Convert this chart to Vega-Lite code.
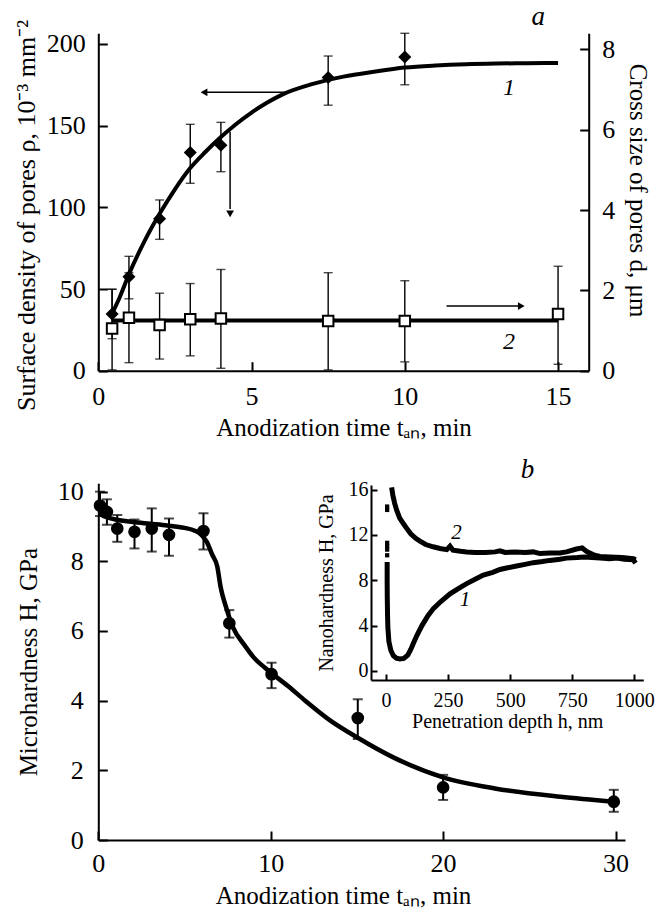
{
  "$schema": "https://vega.github.io/schema/vega-lite/v6.json",
  "width": 658,
  "height": 910,
  "autosize": {"type": "none"},
  "padding": 0,
  "background": "white",
  "config": {
    "view": {"stroke": null},
    "font": "Liberation Serif",
    "axis": {
      "grid": false,
      "domainColor": "black",
      "domainWidth": 2,
      "tickColor": "black",
      "tickWidth": 2,
      "tickSize": -9,
      "labelFont": "Liberation Serif",
      "labelFontSize": 26,
      "labelColor": "black",
      "labelPadding": 22,
      "labelFlush": false,
      "labelOverlap": false,
      "titleFont": "Liberation Serif",
      "titleFontSize": 25,
      "titleFontWeight": "normal",
      "titleColor": "black"
    }
  },
  "datasets": {
    "a1_curve": [
      {"t": 0.45, "v": 35}, {"t": 0.7, "v": 45}, {"t": 1.0, "v": 59}, {"t": 1.5, "v": 79},
      {"t": 2.0, "v": 96}, {"t": 2.5, "v": 111}, {"t": 3.0, "v": 124}, {"t": 3.5, "v": 134},
      {"t": 4.0, "v": 143}, {"t": 4.5, "v": 151}, {"t": 5.0, "v": 158}, {"t": 5.5, "v": 164},
      {"t": 6.0, "v": 169}, {"t": 7.0, "v": 175.5}, {"t": 8.0, "v": 180}, {"t": 9.0, "v": 183},
      {"t": 10.0, "v": 185.5}, {"t": 11.0, "v": 186.8}, {"t": 12.0, "v": 187.6}, {"t": 13.0, "v": 188},
      {"t": 14.0, "v": 188.2}, {"t": 15.0, "v": 188.3}
    ],
    "a1_pts": [
      {"t": 0.45, "v": 34.7, "lo": 19.6, "hi": 49.8},
      {"t": 1.0, "v": 57.5, "lo": 44, "hi": 70},
      {"t": 2.0, "v": 93, "lo": 80.4, "hi": 104.5},
      {"t": 3.0, "v": 133.5, "lo": 114.7, "hi": 150.8},
      {"t": 4.0, "v": 138, "lo": 121.8, "hi": 152},
      {"t": 7.5, "v": 179.5, "lo": 162.5, "hi": 192.6},
      {"t": 10.0, "v": 192, "lo": 175, "hi": 206.5}
    ],
    "a1_harrow": [{"t": 6.14, "t2": 3.5, "v": 170.4}],
    "a1_lhead": [{"t": 3.45, "v": 170.4}],
    "a1_varrow": [{"t": 4.3, "v": 146.3, "v2": 99}],
    "a1_dhead": [{"t": 4.3, "v": 96}],
    "a1_text": [{"t": 13.4, "v": 173, "label": "1"}],
    "a_letter": [{"t": 14.35, "v": 216.7, "label": "a"}],
    "a2_curve": [{"t": 0.45, "v": 1.25}, {"t": 15.0, "v": 1.25}],
    "a2_pts": [
      {"t": 0.45, "v": 1.05, "lo": 0.02, "hi": 2.03},
      {"t": 1.0, "v": 1.32, "lo": 0.2, "hi": 2.44},
      {"t": 2.0, "v": 1.14, "lo": 0.29, "hi": 1.93},
      {"t": 3.0, "v": 1.28, "lo": 0.37, "hi": 2.17},
      {"t": 4.0, "v": 1.3, "lo": 0.06, "hi": 2.52},
      {"t": 7.5, "v": 1.24, "lo": 0.02, "hi": 2.44},
      {"t": 10.0, "v": 1.24, "lo": 0.22, "hi": 2.24},
      {"t": 15.0, "v": 1.41, "lo": 0.16, "hi": 2.6}
    ],
    "a2_harrow": [{"t": 11.36, "t2": 13.7, "v": 1.61}],
    "a2_rhead": [{"t": 13.8, "v": 1.61}],
    "a2_text": [{"t": 13.4, "v": 0.72, "label": "2"}],
    "b_curve": [
      {"t": 0.05, "v": 9.38}, {"t": 0.3, "v": 9.3}, {"t": 0.6, "v": 9.25}, {"t": 1.0, "v": 9.2},
      {"t": 2.0, "v": 9.13}, {"t": 3.0, "v": 9.08}, {"t": 4.0, "v": 9.03}, {"t": 5.0, "v": 8.96},
      {"t": 5.6, "v": 8.88}, {"t": 6.0, "v": 8.75}, {"t": 6.3, "v": 8.55}, {"t": 6.6, "v": 8.2},
      {"t": 6.9, "v": 7.85}, {"t": 7.1, "v": 7.25}, {"t": 7.4, "v": 6.7}, {"t": 7.8, "v": 6.12},
      {"t": 8.5, "v": 5.58}, {"t": 9.0, "v": 5.25}, {"t": 9.7, "v": 4.93}, {"t": 11.0, "v": 4.42},
      {"t": 12.0, "v": 4.0}, {"t": 13.4, "v": 3.45}, {"t": 15.0, "v": 2.95}, {"t": 17.2, "v": 2.35},
      {"t": 20.0, "v": 1.8}, {"t": 23.0, "v": 1.48}, {"t": 26.8, "v": 1.24}, {"t": 29.9, "v": 1.1}
    ],
    "b_pts": [
      {"t": 0.1, "v": 9.6, "lo": 9.3, "hi": 10.0},
      {"t": 0.5, "v": 9.42, "lo": 9.05, "hi": 9.78},
      {"t": 1.1, "v": 8.94, "lo": 8.56, "hi": 9.33},
      {"t": 2.1, "v": 8.85, "lo": 8.37, "hi": 9.2},
      {"t": 3.1, "v": 8.94, "lo": 8.28, "hi": 9.52},
      {"t": 4.1, "v": 8.76, "lo": 8.16, "hi": 9.23},
      {"t": 6.1, "v": 8.87, "lo": 8.34, "hi": 9.38},
      {"t": 7.6, "v": 6.22, "lo": 5.81, "hi": 6.6},
      {"t": 10.05, "v": 4.76, "lo": 4.36, "hi": 5.09},
      {"t": 15.05, "v": 3.5, "lo": 2.9, "hi": 4.04},
      {"t": 20.0, "v": 1.51, "lo": 1.15, "hi": 1.87},
      {"t": 29.9, "v": 1.1, "lo": 0.81, "hi": 1.44}
    ],
    "b_letter": [{"t": 24.9, "v": 10.62, "label": "b"}],
    "in_curve1": [
      {"h": 5, "v": 9.6}, {"h": 5, "v": 8.0}, {"h": 5.5, "v": 6.5}, {"h": 6.5, "v": 5.0},
      {"h": 8, "v": 3.8}, {"h": 12, "v": 2.6}, {"h": 20, "v": 1.8}, {"h": 30, "v": 1.35},
      {"h": 42, "v": 1.12}, {"h": 56, "v": 1.05}, {"h": 72, "v": 1.1}, {"h": 88, "v": 1.4},
      {"h": 100, "v": 1.9}, {"h": 112, "v": 2.5}, {"h": 124, "v": 3.1}, {"h": 145, "v": 4.0},
      {"h": 170, "v": 4.9}, {"h": 191, "v": 5.5}, {"h": 220, "v": 6.1}, {"h": 258, "v": 6.8},
      {"h": 298, "v": 7.35}, {"h": 325, "v": 7.7}, {"h": 365, "v": 8.15}, {"h": 392, "v": 8.45},
      {"h": 430, "v": 8.7}, {"h": 459, "v": 8.95}, {"h": 490, "v": 9.1}, {"h": 526, "v": 9.25},
      {"h": 560, "v": 9.4}, {"h": 593, "v": 9.55}, {"h": 630, "v": 9.65}, {"h": 660, "v": 9.75},
      {"h": 700, "v": 9.85}, {"h": 727, "v": 9.95}, {"h": 770, "v": 10.0}, {"h": 800, "v": 10.05},
      {"h": 830, "v": 10.0}, {"h": 862, "v": 9.95}, {"h": 900, "v": 9.9}, {"h": 930, "v": 9.95},
      {"h": 960, "v": 9.85}, {"h": 996, "v": 9.8}, {"h": 1005, "v": 9.5}
    ],
    "in_curve2": [
      {"h": 23, "v": 16.2}, {"h": 28, "v": 15.5}, {"h": 35, "v": 14.8}, {"h": 43, "v": 14.2},
      {"h": 55, "v": 13.5}, {"h": 70, "v": 13.0}, {"h": 83, "v": 12.6}, {"h": 100, "v": 12.1},
      {"h": 120, "v": 11.7}, {"h": 137, "v": 11.45}, {"h": 160, "v": 11.15}, {"h": 190, "v": 10.95},
      {"h": 218, "v": 10.8}, {"h": 245, "v": 10.7}, {"h": 258, "v": 11.0}, {"h": 270, "v": 10.65},
      {"h": 300, "v": 10.55}, {"h": 325, "v": 10.5}, {"h": 360, "v": 10.45}, {"h": 400, "v": 10.45},
      {"h": 440, "v": 10.5}, {"h": 459, "v": 10.6}, {"h": 480, "v": 10.45}, {"h": 520, "v": 10.5},
      {"h": 560, "v": 10.45}, {"h": 593, "v": 10.5}, {"h": 620, "v": 10.35}, {"h": 660, "v": 10.4},
      {"h": 700, "v": 10.4}, {"h": 727, "v": 10.5}, {"h": 767, "v": 10.75}, {"h": 790, "v": 10.85},
      {"h": 810, "v": 10.5}, {"h": 840, "v": 10.2}, {"h": 862, "v": 10.1}, {"h": 900, "v": 10.05},
      {"h": 950, "v": 10.0}, {"h": 996, "v": 9.9}, {"h": 1005, "v": 9.8}
    ],
    "in_stack": [
      {"h": 5, "v": 14.5}, {"h": 5, "v": 14.2}, {"h": 5, "v": 11.3}, {"h": 5, "v": 11.0},
      {"h": 5, "v": 10.7}, {"h": 5, "v": 10.2}
    ],
    "in_text": [{"h": 284, "v": 12.2, "label": "2"}, {"h": 318, "v": 6.23, "label": "1"}]
  },
  "layer": [
    {
      "encoding": {
        "x": {"field": "t", "type": "quantitative",
          "scale": {"domain": [0, 16], "range": [98.3, 588.7], "nice": false, "zero": false},
          "axis": {"orient": "bottom", "offset": -539.3, "values": [0, 5, 10, 15], "title": "Anodization time tₐₙ, min", "titlePadding": 6,
            "labelFont": "Liberation Serif", "labelFontSize": 26}},
        "y": {"field": "v", "type": "quantitative",
          "scale": {"domain": [0, 206.5], "range": [370.7, 33.3], "nice": false, "zero": false},
          "axis": {"orient": "left", "offset": -98.3, "values": [0, 50, 100, 150, 200], "title": "Surface density of pores ρ, 10⁻³ mm⁻²", "titlePadding": 7,
            "titleY": 215, "titleFontSize": 26, "labelFont": "Liberation Serif", "labelFontSize": 26}}
      },
      "layer": [
        {"data": {"name": "a1_curve"}, "mark": {"type": "line", "color": "black", "strokeWidth": 4, "interpolate": "monotone"}},
        {"data": {"name": "a1_pts"}, "mark": {"type": "rule", "color": "black", "strokeWidth": 1.4},
          "encoding": {"y": {"field": "lo", "type": "quantitative"}, "y2": {"field": "hi"}}},
        {"data": {"name": "a1_pts"}, "mark": {"type": "tick", "orient": "horizontal", "color": "black", "size": 9, "thickness": 1.4},
          "encoding": {"y": {"field": "lo", "type": "quantitative"}}},
        {"data": {"name": "a1_pts"}, "mark": {"type": "tick", "orient": "horizontal", "color": "black", "size": 9, "thickness": 1.4},
          "encoding": {"y": {"field": "hi", "type": "quantitative"}}},
        {"data": {"name": "a1_pts"}, "mark": {"type": "point", "shape": "diamond", "filled": true, "color": "black", "opacity": 1, "size": 170}},
        {"data": {"name": "a1_harrow"}, "mark": {"type": "rule", "color": "black", "strokeWidth": 1.5},
          "encoding": {"x2": {"field": "t2"}}},
        {"data": {"name": "a1_lhead"}, "mark": {"type": "point", "shape": "triangle-left", "filled": true, "color": "black", "opacity": 1, "size": 60}},
        {"data": {"name": "a1_varrow"}, "mark": {"type": "rule", "color": "black", "strokeWidth": 1.5},
          "encoding": {"y2": {"field": "v2"}}},
        {"data": {"name": "a1_dhead"}, "mark": {"type": "point", "shape": "triangle-down", "filled": true, "color": "black", "opacity": 1, "size": 60}},
        {"data": {"name": "a1_text"}, "mark": {"type": "text", "font": "Liberation Serif", "fontStyle": "italic", "fontSize": 24, "color": "black", "baseline": "middle", "align": "center"},
          "encoding": {"text": {"field": "label"}}},
        {"data": {"name": "a_letter"}, "mark": {"type": "text", "font": "Liberation Serif", "fontStyle": "italic", "fontSize": 27, "color": "black", "baseline": "middle", "align": "center"},
          "encoding": {"text": {"field": "label"}}}
      ]
    },
    {
      "encoding": {
        "x": {"field": "t", "type": "quantitative",
          "scale": {"domain": [0, 16], "range": [98.3, 588.7], "nice": false, "zero": false},
          "axis": null},
        "y": {"field": "v", "type": "quantitative",
          "scale": {"domain": [0, 8.4], "range": [370.7, 33.3], "nice": false, "zero": false},
          "axis": {"orient": "right", "offset": -69.3, "values": [0, 2, 4, 6, 8], "title": "Cross size of pores d, μm", "titlePadding": 10,
            "titleY": 190, "labelFont": "Liberation Serif", "labelFontSize": 26}}
      },
      "layer": [
        {"data": {"name": "a2_pts"}, "mark": {"type": "rule", "color": "black", "strokeWidth": 1.4},
          "encoding": {"y": {"field": "lo", "type": "quantitative"}, "y2": {"field": "hi"}}},
        {"data": {"name": "a2_pts"}, "mark": {"type": "tick", "orient": "horizontal", "color": "black", "size": 9, "thickness": 1.4},
          "encoding": {"y": {"field": "lo", "type": "quantitative"}}},
        {"data": {"name": "a2_pts"}, "mark": {"type": "tick", "orient": "horizontal", "color": "black", "size": 9, "thickness": 1.4},
          "encoding": {"y": {"field": "hi", "type": "quantitative"}}},
        {"data": {"name": "a2_curve"}, "mark": {"type": "line", "color": "black", "strokeWidth": 4}},
        {"data": {"name": "a2_pts"}, "mark": {"type": "point", "shape": "square", "filled": true, "fill": "white", "stroke": "black", "strokeWidth": 2, "opacity": 1, "size": 110}},
        {"data": {"name": "a2_harrow"}, "mark": {"type": "rule", "color": "black", "strokeWidth": 1.5},
          "encoding": {"x2": {"field": "t2"}}},
        {"data": {"name": "a2_rhead"}, "mark": {"type": "point", "shape": "triangle-right", "filled": true, "color": "black", "opacity": 1, "size": 60}},
        {"data": {"name": "a2_text"}, "mark": {"type": "text", "font": "Liberation Serif", "fontStyle": "italic", "fontSize": 24, "color": "black", "baseline": "middle", "align": "center"},
          "encoding": {"text": {"field": "label"}}}
      ]
    },
    {
      "encoding": {
        "x": {"field": "t", "type": "quantitative",
          "scale": {"domain": [0, 30.55], "range": [98.3, 625], "nice": false, "zero": false},
          "axis": {"orient": "bottom", "offset": -70, "values": [0, 10, 20, 30], "title": "Anodization time tₐₙ, min", "labelPadding": 19, "titlePadding": 7, "titleX": 343,
            "labelFont": "Liberation Serif", "labelFontSize": 26}},
        "y": {"field": "v", "type": "quantitative",
          "scale": {"domain": [0, 10.24], "range": [840, 483.3], "nice": false, "zero": false},
          "axis": {"orient": "left", "offset": -98.3, "values": [0, 2, 4, 6, 8, 10], "title": "Microhardness H, GPa", "labelPadding": 24, "titlePadding": 16,
            "labelFont": "Liberation Serif", "labelFontSize": 26}}
      },
      "layer": [
        {"data": {"name": "b_pts"}, "mark": {"type": "rule", "color": "black", "strokeWidth": 2},
          "encoding": {"y": {"field": "lo", "type": "quantitative"}, "y2": {"field": "hi"}}},
        {"data": {"name": "b_pts"}, "mark": {"type": "tick", "orient": "horizontal", "color": "black", "size": 10, "thickness": 2},
          "encoding": {"y": {"field": "lo", "type": "quantitative"}}},
        {"data": {"name": "b_pts"}, "mark": {"type": "tick", "orient": "horizontal", "color": "black", "size": 10, "thickness": 2},
          "encoding": {"y": {"field": "hi", "type": "quantitative"}}},
        {"data": {"name": "b_curve"}, "mark": {"type": "line", "color": "black", "strokeWidth": 4.5, "interpolate": "monotone"}},
        {"data": {"name": "b_pts"}, "mark": {"type": "point", "shape": "circle", "filled": true, "color": "black", "opacity": 1, "size": 160}},
        {"data": {"name": "b_letter"}, "mark": {"type": "text", "font": "Liberation Serif", "fontStyle": "italic", "fontSize": 27, "color": "black", "baseline": "middle", "align": "center"},
          "encoding": {"text": {"field": "label"}}}
      ]
    },
    {
      "encoding": {
        "x": {"field": "h", "type": "quantitative",
          "scale": {"domain": [-60, 1036], "range": [371, 643.3], "nice": false, "zero": false},
          "axis": {"orient": "bottom", "offset": -230, "values": [0, 250, 500, 750, 1000], "format": "d", "title": "Penetration depth h, nm",
            "tickSize": -6, "labelFont": "Liberation Serif", "labelFontSize": 20, "labelPadding": 16, "titleFontSize": 20, "titlePadding": 1}},
        "y": {"field": "v", "type": "quantitative",
          "scale": {"domain": [-0.8, 16.4], "range": [680, 485], "nice": false, "zero": false},
          "axis": {"orient": "left", "offset": -371, "values": [0, 4, 8, 12, 16], "title": "Nanohardness H, GPa",
            "tickSize": -6, "labelFont": "Liberation Serif", "labelFontSize": 20, "labelPadding": 9, "titleFontSize": 20, "titlePadding": 12}}
      },
      "layer": [
        {"data": {"name": "in_curve1"}, "mark": {"type": "line", "color": "black", "strokeWidth": 5}},
        {"data": {"name": "in_curve2"}, "mark": {"type": "line", "color": "black", "strokeWidth": 5}},
        {"data": {"name": "in_stack"}, "mark": {"type": "point", "shape": "square", "filled": true, "color": "black", "opacity": 1, "size": 18}},
        {"data": {"name": "in_text"}, "mark": {"type": "text", "font": "Liberation Serif", "fontStyle": "italic", "fontSize": 21, "color": "black", "baseline": "middle", "align": "center"},
          "encoding": {"text": {"field": "label"}}}
      ]
    }
  ],
  "resolve": {"scale": {"x": "independent", "y": "independent"}, "axis": {"x": "independent", "y": "independent"}}
}
